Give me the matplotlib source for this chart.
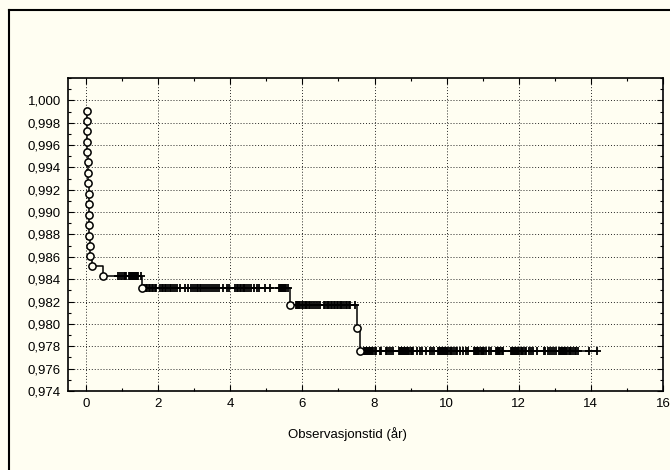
import numpy as np
import matplotlib
matplotlib.use("Agg")
import matplotlib.pyplot as plt
from matplotlib import ticker
from matplotlib.lines import Line2D

# Kaplan-Meier: hendelsestider (år) og overlevelse etter hendelsen
tid_hendelse = [0.02, 0.02, 0.04, 0.04, 0.04, 0.05, 0.06, 0.06, 0.07, 0.08, 0.09,
                0.09, 0.09, 0.10, 0.12, 0.16, 0.46, 1.56, 5.67, 7.52, 7.61]
overlevelse = [0.99904, 0.99815, 0.99722, 0.99627, 0.99537, 0.99445, 0.99350,
               0.99257, 0.99164, 0.99069, 0.98976, 0.98884, 0.98791, 0.98699,
               0.98606, 0.98516, 0.98427, 0.98325, 0.98173, 0.97960, 0.97755]

# sensurerte observasjoner (år)
sensurert = [
    0.88, 0.93, 0.99, 1.04, 1.07, 1.11, 1.18, 1.21, 1.24, 1.27, 1.30, 1.33, 1.36,
    1.39, 1.42, 1.45, 1.52,
    1.62, 1.66, 1.70, 1.74, 1.78, 1.82, 1.86, 1.90, 1.95, 2.06, 2.10, 2.14, 2.18,
    2.22, 2.27, 2.32, 2.37, 2.42, 2.47, 2.52, 2.61, 2.75, 2.84, 2.90, 2.96, 3.03,
    3.07, 3.11, 3.15, 3.20, 3.25, 3.30, 3.35, 3.40, 3.46, 3.52, 3.58, 3.63, 3.70,
    3.81, 3.91, 3.97, 4.14, 4.18, 4.22, 4.26, 4.30, 4.34, 4.38, 4.42, 4.46, 4.51,
    4.58, 4.65, 4.74, 4.80, 4.97, 5.11, 5.34, 5.37, 5.40, 5.43, 5.46, 5.49, 5.52,
    5.55, 5.60,
    5.81, 5.84, 5.87, 5.90, 5.94, 5.98, 6.02, 6.06, 6.10, 6.14, 6.18, 6.22, 6.27,
    6.33, 6.38, 6.44, 6.50, 6.59, 6.63, 6.67, 6.71, 6.75, 6.79, 6.83, 6.87, 6.91,
    6.95, 6.99, 7.03, 7.07, 7.11, 7.15, 7.20, 7.25, 7.30, 7.33, 7.47,
    7.70, 7.73, 7.76, 7.79, 7.82, 7.85, 7.88, 7.91, 7.94, 7.97, 8.00, 8.03, 8.14,
    8.18, 8.31, 8.35, 8.40, 8.45, 8.50, 8.67, 8.70, 8.73, 8.76, 8.79, 8.82, 8.85,
    8.88, 8.91, 8.94, 8.97, 9.00, 9.04, 9.08, 9.19, 9.25, 9.33, 9.42, 9.55, 9.60,
    9.64, 9.75, 9.78, 9.81, 9.84, 9.87, 9.90, 9.93, 9.96, 9.99, 10.02, 10.05,
    10.08, 10.11, 10.15, 10.20, 10.25, 10.30, 10.37, 10.44, 10.55, 10.60, 10.75,
    10.78, 10.81, 10.84, 10.87, 10.90, 10.94, 10.97, 11.00, 11.04, 11.08, 11.17,
    11.24, 11.36, 11.39, 11.42, 11.45, 11.49, 11.53, 11.56, 11.78, 11.81, 11.84,
    11.87, 11.90, 11.93, 11.96, 11.99, 12.02, 12.05, 12.09, 12.13, 12.16, 12.19,
    12.28, 12.34, 12.39, 12.50, 12.69, 12.74, 12.80, 12.86, 12.92, 12.97, 13.03,
    13.11, 13.14, 13.17, 13.20, 13.23, 13.26, 13.29, 13.32, 13.35, 13.38, 13.42,
    13.46, 13.50, 13.55, 13.60, 13.64, 13.94, 14.17,
]

BAKGRUNN = "#fffef2"

plt.rcParams["font.family"] = ["Liberation Sans", "DejaVu Sans"]
plt.rcParams["font.size"] = 9.5

fig = plt.figure(figsize=(6.7, 4.7), dpi=100, facecolor=BAKGRUNN)
# ytre ramme: bare venstre og øvre kant er synlige i bildet
x0, y0 = 8.5 / 670, 1 - 9.5 / 470
fig.add_artist(Line2D([x0, x0], [-0.1, y0], transform=fig.transFigure,
                      color="black", lw=1.5))
fig.add_artist(Line2D([x0, 1.1], [y0, y0], transform=fig.transFigure,
                      color="black", lw=1.5))

ax = fig.add_axes([68 / 670, 1 - 391 / 470, 595 / 670, 313 / 470])
ax.set_facecolor(BAKGRUNN)

t = np.array(tid_hendelse)
s = np.array(overlevelse)
sens = np.array(sensurert)

# trappekurve, forlenget til siste sensurering
x_linje = np.append(t, sens.max())
y_linje = np.append(s, s[-1])
ax.step(x_linje, y_linje, where="post", color="black", lw=1.1, zorder=3)

# sensurmerker på kurven
idx = np.searchsorted(t, sens, side="right") - 1
ax.plot(sens, s[idx], ls="none", marker="+", ms=6, mew=1.3,
        color="black", zorder=4)

# hendelser
ax.plot(t, s, ls="none", marker="o", ms=5.2, mfc=BAKGRUNN, mec="black",
        mew=1.1, zorder=5)

ax.set_xlim(-0.5, 16)
ax.set_ylim(0.974, 1.002)
ax.xaxis.set_major_locator(ticker.MultipleLocator(2))
ax.xaxis.set_minor_locator(ticker.MultipleLocator(1))
ax.yaxis.set_major_locator(ticker.FixedLocator(np.arange(0.974, 1.0005, 0.002)))
ax.yaxis.set_minor_locator(ticker.MultipleLocator(0.001))
ax.yaxis.set_major_formatter(
    ticker.FuncFormatter(lambda v, _: f"{v:.3f}".replace(".", ",")))

ax.tick_params(which="both", direction="in", top=True, right=True,
               color="black", labelcolor="black")
ax.tick_params(which="major", length=4, width=0.8, pad=5)
ax.tick_params(which="minor", length=2.5, width=0.8)

ax.grid(True, which="major", color="0.15", ls=(0, (1, 2)), lw=0.7)
for sp in ax.spines.values():
    sp.set_linewidth(1.2)
    sp.set_color("black")

ax.set_xlabel("Observasjonstid (år)", fontsize=9.5)
ax.xaxis.set_label_coords(0.47, -0.115)

fig.savefig("out.png", dpi=100, facecolor=BAKGRUNN)
